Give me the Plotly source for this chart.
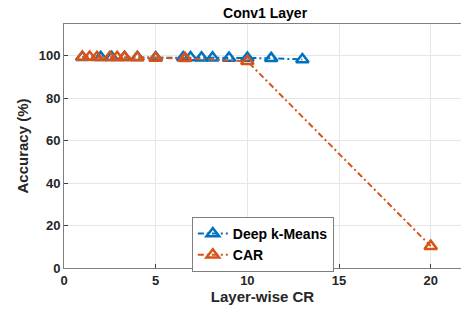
import plotly.graph_objects as go

# Data
dkm_x = [1.0, 2.0, 2.6, 3.3, 4.0, 5.0, 6.5, 6.9, 7.5, 8.1, 9.0, 10.0, 11.3, 13.0]
dkm_y = [99.3, 99.3, 99.3, 99.3, 99.3, 99.2, 99.2, 99.2, 99.1, 99.1, 99.0, 99.0, 98.8, 98.3]
car_x = [1.0, 1.4, 1.8, 2.5, 2.9, 3.3, 4.0, 5.0, 6.6, 10.0, 20.0]
car_y = [99.4, 99.4, 99.3, 99.3, 99.3, 99.3, 99.2, 99.0, 98.8, 97.4, 10.3]
x_ticks = [0, 5, 10, 15, 20]
y_ticks = [0, 20, 40, 60, 80, 100]

BLUE = "#0072BD"
ORANGE = "#D95319"
FONT = "Liberation Sans, Arial, sans-serif"
DASH = "6px,3px,2px,3px"

fig = go.Figure()
fig.add_trace(go.Scatter(
    x=dkm_x, y=dkm_y, name="<b>Deep k-Means</b>", mode="lines+markers",
    line=dict(color=BLUE, width=2, dash=DASH),
    marker=dict(symbol="triangle-up-open", size=11, color=BLUE, line=dict(width=2.5, color=BLUE)),
))
fig.add_trace(go.Scatter(
    x=car_x, y=car_y, name="<b>CAR</b>", mode="lines+markers",
    line=dict(color=ORANGE, width=2, dash=DASH),
    marker=dict(symbol="triangle-up-open", size=11, color=ORANGE, line=dict(width=2.5, color=ORANGE)),
))

fig.update_layout(
    width=461, height=314,
    margin=dict(l=64, r=0, t=24, b=46),
    paper_bgcolor="white", plot_bgcolor="white",
    font=dict(family=FONT, size=13, color="#262626"),
    title=dict(text="<b>Conv1 Layer</b>", x=0.575, xanchor="center", y=1 - 13 / 314, yanchor="middle",
               font=dict(size=14, color="black")),
    showlegend=True,
    legend=dict(x=0.322, y=0.209, xanchor="left", yanchor="top",
                bordercolor="#7f7f7f", borderwidth=1, bgcolor="white",
                font=dict(size=14, color="black"), tracegroupgap=0, itemwidth=30),
)
fig.update_xaxes(
    range=[0, 21.65], tickvals=x_ticks, ticktext=[f"<b>{v}</b>" for v in x_ticks],
    showgrid=True, gridcolor="#e6e6e6", gridwidth=1, zeroline=False,
    showline=True, linecolor="#808080", linewidth=1, mirror=True,
    ticks="inside", ticklen=4, tickcolor="#404040", automargin=False,
    title=dict(text="<b>Layer-wise CR</b>", font=dict(size=15), standoff=4),
)
fig.update_yaxes(
    range=[0, 115], tickvals=y_ticks, ticktext=[f"<b>{v}</b>" for v in y_ticks],
    showgrid=True, gridcolor="#e6e6e6", gridwidth=1, zeroline=False,
    showline=True, linecolor="#808080", linewidth=1, mirror=False,
    ticks="inside", ticklen=4, tickcolor="#404040", automargin=False,
    title=dict(text="<b>Accuracy (%)</b>", font=dict(size=15), standoff=6),
)

fig.write_html("out.html", config={"displayModeBar": False},
               post_script="document.body.style.margin='0';")
